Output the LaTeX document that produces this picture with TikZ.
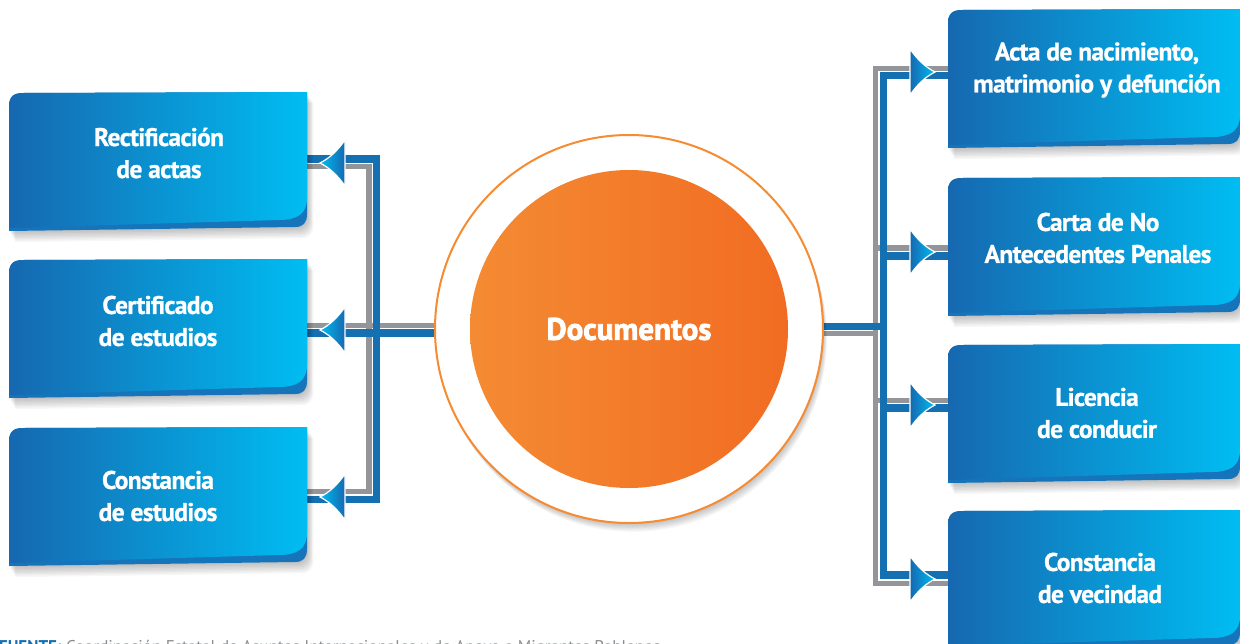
\documentclass[tikz,border=0pt]{standalone}
\usepackage{fontspec}
\setmainfont{PT Sans}
\newfontfamily\boxfont{PT Sans}[LetterSpace=-2.5,BoldFeatures={FakeBold=0.8}]
\newfontfamily\docfont{PT Sans}[BoldFeatures={FakeBold=2.5}]
\usetikzlibrary{calc}
\definecolor{bdark}{HTML}{1668B0}
\definecolor{blight}{HTML}{00BDF2}
\definecolor{bmid}{HTML}{1574BA}
\definecolor{lblue}{HTML}{1570B2}
\definecolor{lgray}{HTML}{939598}
\definecolor{orl}{HTML}{F48B33}
\definecolor{orr}{HTML}{F16C22}
\definecolor{orb}{HTML}{F68B32}
\definecolor{srcgray}{HTML}{8A8C8E}
\tikzset{
  boxn/.style={minimum width=#1, minimum height=138pt, inner sep=0pt, outer sep=0pt},
  boxtxt/.style={text=white, align=center, inner sep=0pt,
    font=\boxfont\bfseries\fontsize{25.5}{32}\selectfont},
  grayline/.style={draw=lgray, line width=5.5pt},
  blueline/.style={draw=lblue, line width=7.5pt},
  headL/.style={draw=white, line width=1.2pt, left color=blight, right color=bdark},
  headR/.style={draw=white, line width=1.2pt, left color=bdark, right color=blight},
  outerpath/.style={insert path={(-#1,69) -- (-#1,-55) .. controls (-#1,-65) and (-#1+4,-69) .. (-#1+14,-69)
     -- (#1,-70) -- (#1,52) .. controls (#1,61) and (#1-4,65) .. (#1-12,65) -- cycle}},
  innerpath/.style={insert path={(-#1,66) -- (-#1,-55) .. controls (-#1,-65) and (-#1+4,-69) .. (-#1+14,-69)
     -- (#1,-70) -- (#1,36) .. controls (#1,52) and (#1-10,58) .. (#1-28,58) -- cycle}},
}
\newcommand\drawbox[2]{%
  \begin{scope}[shift={(#1.center)}]
    \foreach \k in {1,...,8}{\fill[black,opacity=0.03,shift={(0.8*\k,1.4*\k)}, outerpath=#2];}
    \fill[bmid, outerpath=#2];
    \shade[left color=bdark, right color=blight, innerpath=#2];
  \end{scope}}
\newcommand\headleft[1]{%
  \begin{scope}[shift={(#1)}]
    \path[headL] (0,0) .. controls (10,-5) and (18,-13) .. (25,-23) -- (25,23) .. controls (18,13) and (10,5) .. cycle;
  \end{scope}}
\newcommand\headright[1]{%
  \begin{scope}[shift={(#1)}]
    \path[headR] (0,0) .. controls (-10,-5) and (-18,-13) .. (-25,-23) -- (-25,23) .. controls (-18,13) and (-10,5) .. cycle;
  \end{scope}}
\begin{document}
\begin{tikzpicture}[x=1pt,y=-1pt]
\useasboundingbox (0,0) rectangle (1240,643);
\clip (0,0) rectangle (1240,643);
\fill[white] (0,0) rectangle (1240,643);
% box nodes
\node[boxn=298pt] (L1) at (158,162) {};
\node[boxn=298pt] (L2) at (158,329) {};
\node[boxn=298pt] (L3) at (158,497) {};
\node[boxn=292pt] (R1) at (1094,79) {};
\node[boxn=292pt] (R2) at (1094,247) {};
\node[boxn=292pt] (R3) at (1094,414) {};
\node[boxn=292pt] (R4) at (1094,580) {};
\coordinate (C0) at (629,329);
% connectors: gray first, then blue
\draw[grayline] ([yshift=-4.5pt]L1.east) -- ++(62,0) |- ([yshift=5.5pt]L3.east);
\draw[grayline] ([yshift=3.5pt]L2.east) -- ([yshift=3.5pt]C0);
\draw[grayline] ([yshift=10.5pt]R1.west) -- ++(-72.5,0) |- ([yshift=-3.5pt]R4.west);
\draw[grayline] ([yshift=-1pt]R2.west) -- ++(-72.5,0);
\draw[grayline] ([yshift=13.5pt]R3.west) -- ++(-72.5,0);
\draw[grayline] ([yshift=-4.5pt]C0) -- ++(246.5,0);
\draw[blueline] ([yshift=3pt]L1.east) -- ++(69.5,0) |- ([yshift=-2.5pt]L3.east);
\draw[blueline] ([yshift=-4pt]L2.east) -- ([yshift=-4pt]C0);
\draw[blueline] ([yshift=3.5pt]R1.west) -- ++(-64.5,0) |- ([yshift=5pt]R4.west);
\draw[blueline] ([yshift=-9pt]R2.west) -- ++(-64.5,0);
\draw[blueline] ([yshift=6pt]R3.west) -- ++(-64.5,0);
\draw[blueline] ([yshift=2.5pt]C0) -- ++(254.5,0);
% boxes
\drawbox{L1}{149}\drawbox{L2}{149}\drawbox{L3}{149}
\drawbox{R1}{146}\drawbox{R2}{146}\drawbox{R3}{146}\drawbox{R4}{146}
% arrowheads
\headleft{$(L1.east)+(13,1)$}
\headleft{$(L2.east)+(13,1)$}
\headleft{$(L3.east)+(13,0)$}
\headright{$(R1.west)+(-13,-7)$}
\headright{$(R2.west)+(-13,5)$}
\headright{$(R3.west)+(-13,-9)$}
\headright{$(R4.west)+(-13,-1)$}
% central circle
\foreach \k in {1,...,8}{\fill[black,opacity=0.03] ($(C0)+(0.5*\k,1.1*\k)$) circle[radius=194pt];}
\node[circle, inner sep=0pt, minimum size=388pt, draw=orb, line width=2pt, fill=white] (C) at (C0) {};
\node[circle, inner sep=0pt, minimum size=318pt, left color=orl, right color=orr, text=white,
      font=\docfont\bfseries\fontsize{31}{36}\selectfont] (D) at (C) {Documentos};
% texts
\node[boxtxt] (L1t) at (159,153) {Rectificación\\de actas};
\node[boxtxt] (L2t) at (158,321) {Certificado\\de estudios};
\node[boxtxt] (L3t) at (158,496) {Constancia\\de estudios};
\node[boxtxt] (R1t) at (1097,70) {Acta de nacimiento,\\matrimonio y defunción};
\node[boxtxt] (R2t) at (1098,238) {Carta de No\\Antecedentes Penales};
\node[boxtxt] (R3t) at (1097,413) {Licencia\\de conducir};
\node[boxtxt] (R4t) at (1100,578) {Constancia\\de vecindad};
% source line (cut by the page edge, as in the reference)
\node[anchor=base west, inner sep=0pt, text=srcgray, font=\fontsize{17}{19}\selectfont] (src) at (-1,652)
  {\textcolor{lblue}{\bfseries FUENTE:} Coordinación Estatal de Asuntos Internacionales y de Apoyo a Migrantes Poblanos.};
\end{tikzpicture}
\end{document}
